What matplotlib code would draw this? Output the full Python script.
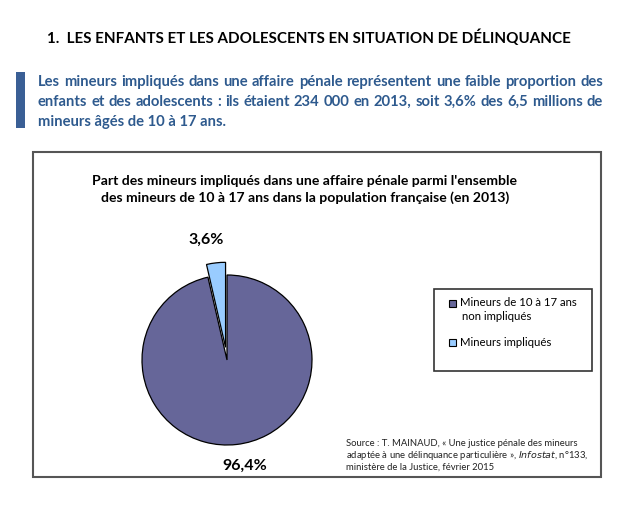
import matplotlib
matplotlib.use("Agg")
import matplotlib.pyplot as plt
import numpy as np
from matplotlib.patches import Rectangle

plt.rcParams['font.family'] = ['Lato', 'DejaVu Sans']

categories = ["Mineurs impliqués", "Mineurs de 10 à 17 ans\nnon impliqués"]
values = [3.6, 96.4]
pct_labels = ["3,6%", "96,4%"]
colors = ["#99CCFF", "#666699"]

W, H = 640, 512
fig = plt.figure(figsize=(W/100, H/100), dpi=100)
renderer = fig.canvas.get_renderer()

def fx(x): return x / W
def fy(y): return 1 - y / H

def justified(line, x0, x1, y, **kw):
    words = line.split(' ')
    widths = []
    for w in words:
        t = fig.text(0, 0, w, **kw)
        widths.append(t.get_window_extent(renderer).width)
        t.remove()
    gap = (x1 - x0 - sum(widths)) / (len(words) - 1)
    x = x0
    for w, wd in zip(words, widths):
        fig.text(fx(x), fy(y), w, ha='left', va='center', **kw)
        x += wd + gap

# Header
fig.text(fx(47), fy(38), "1.  LES ENFANTS ET LES ADOLESCENTS EN SITUATION DE DÉLINQUANCE",
         fontsize=10.9, fontweight='bold', color='black', va='center', ha='left')
fig.patches.append(Rectangle((fx(16), fy(128)), fx(9), (128-72)/H, transform=fig.transFigure,
                             facecolor='#3A5F95', edgecolor='none'))
blue = '#2E5A8E'
intro = ["Les mineurs impliqués dans une affaire pénale représentent une faible proportion des",
         "enfants et des adolescents : ils étaient 234 000 en 2013, soit 3,6% des 6,5 millions de",
         "mineurs âgés de 10 à 17 ans."]
kw = dict(fontsize=10.6, fontweight='bold', color=blue)
justified(intro[0], 38, 603, 82, **kw)
justified(intro[1], 38, 603, 102, **kw)
fig.text(fx(38), fy(122), intro[2], va='center', ha='left', **kw)

# Chart box
fig.patches.append(Rectangle((fx(33), fy(477)), (601-33)/W, (477-152)/H, transform=fig.transFigure,
                             facecolor='none', edgecolor='#555555', linewidth=1.5))
fig.text(fx(305), fy(181), "Part des mineurs impliqués dans une affaire pénale parmi l'ensemble",
         fontsize=10.1, fontweight='bold', ha='center', va='center')
fig.text(fx(305), fy(198), "des mineurs de 10 à 17 ans dans la population française (en 2013)",
         fontsize=10.1, fontweight='bold', ha='center', va='center')

# Pie
R = 85
cx, cy = 227, 360
lim = 1.6
size = 2 * lim * R
ax = fig.add_axes([fx(cx - size/2), fy(cy + size/2), size/W, size/H])
wedges, _ = ax.pie(values, colors=colors, startangle=90, counterclock=True,
                   explode=[0.15, 0], wedgeprops=dict(edgecolor='black', linewidth=0.9))
ax.set_xlim(-lim, lim)
ax.set_ylim(-lim, lim)
ax.set_aspect('equal')
ax.axis('off')
ax.text(-0.24, 1.41, pct_labels[0], fontsize=11.5, fontweight='bold', ha='center', va='center')
ax.text(0.21, -1.25, pct_labels[1], fontsize=11.5, fontweight='bold', ha='center', va='center')

# Legend
fig.patches.append(Rectangle((fx(434), fy(371)), (592-434)/W, (371-289)/H, transform=fig.transFigure,
                             facecolor='white', edgecolor='#333333', linewidth=1.2))
leg_items = [(categories[1], colors[1], 303), (categories[0], colors[0], 342)]
for lab, col, y in leg_items:
    fig.patches.append(Rectangle((fx(449), fy(y + 3.5)), 7/W, 7/H, transform=fig.transFigure,
                                 facecolor=col, edgecolor='black', linewidth=0.8))
    lines = lab.split('\n')
    for j, l in enumerate(lines):
        fig.text(fx(460 if j == 0 else 462), fy(y + 14*j), l, fontsize=8.2, ha='left', va='center')

# Source
fig.text(fx(346), fy(444), "Source : T. MAINAUD, « Une justice pénale des mineurs",
         fontsize=6.8, ha='left', va='center', color='#222222')
fig.text(fx(346), fy(456), "adaptée à une délinquance particulière », $\\it{Infostat}$, n°133,",
         fontsize=6.8, ha='left', va='center', color='#222222')
fig.text(fx(346), fy(467), "ministère de la Justice, février 2015",
         fontsize=6.8, ha='left', va='center', color='#222222')

fig.savefig("out.png", dpi=100, facecolor='white')
